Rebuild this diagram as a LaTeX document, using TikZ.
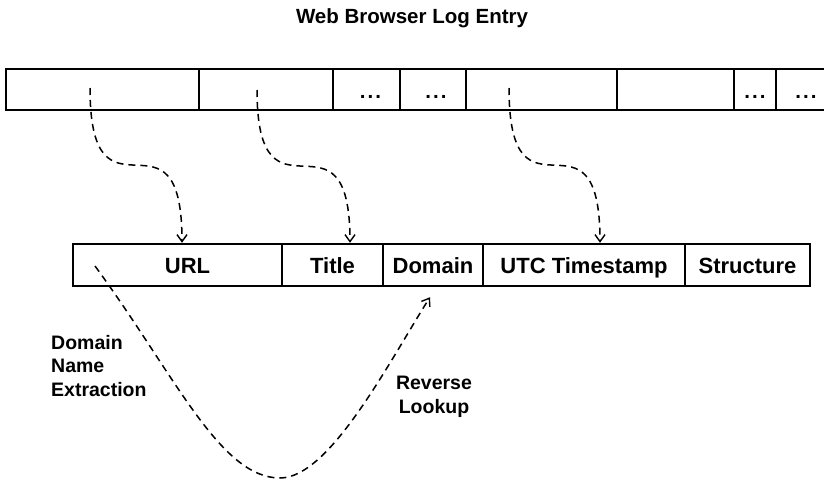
\documentclass[tikz,border=0pt]{standalone}
\usepackage{fontspec}
\setmainfont{Liberation Sans}
\usetikzlibrary{arrows.meta,calc}
\newcommand{\mydots}{.\hspace{2pt}.\hspace{2pt}.}
\begin{document}
\begin{tikzpicture}[x=1pt,y=-1pt,
  font=\bfseries\fontsize{20.5}{23.5}\selectfont,
  cellA/.style={draw, line width=2.4pt, minimum height=41pt, inner sep=0pt, text height=17pt, text depth=0pt},
  cellB/.style={draw, line width=2.4pt, minimum height=42pt, inner sep=0pt, text height=17pt, text depth=0pt,
    font=\bfseries\fontsize{22}{26}\selectfont},
  link/.style={line width=1.5pt, dash pattern=on 7pt off 5pt, -{Straight Barb[length=7pt,width=10pt,line width=1.4pt]}},
  lbl/.style={inner sep=0pt, font=\bfseries\fontsize{19.5}{23.5}\selectfont}]
\useasboundingbox (0,0) rectangle (824,482);
\clip (0,0) rectangle (824,482);
% title
\node[anchor=base] (ttl) at (412,23) {Web Browser Log Entry};
% top row
\node[cellA, minimum width=193pt] (c1) at (102.5,89.5) {};
\node[cellA, minimum width=134pt] (c2) at (266,89.5) {};
\node[cellA, minimum width=67pt] (c3) at (366.5,89.5) {\hspace{8pt}\mydots};
\node[cellA, minimum width=66pt] (c4) at (433,89.5) {\hspace{6pt}\mydots};
\node[cellA, minimum width=151pt] (c5) at (541.5,89.5) {};
\node[cellA, minimum width=117pt] (c6) at (675.5,89.5) {};
\node[cellA, minimum width=42pt] (c7) at (755,89.5) {\mydots};
\node[cellA, minimum width=64pt] (c8) at (808,89.5) {\hspace{-4pt}\mydots};
% bottom row
\node[cellB, minimum width=209pt] (url) at (177.5,265) {\hspace{20pt}URL};
\node[cellB, minimum width=101pt] (title) at (332.5,265) {Title};
\node[cellB, minimum width=100pt] (domain) at (433,265) {Domain};
\node[cellB, minimum width=202pt] (utc) at (584,265) {UTC Timestamp\hspace{12pt}};
\node[cellB, minimum width=125pt] (struct) at (747.5,265) {Structure};
% start points
\coordinate (s1) at (90,88);
\coordinate (s2) at (257,90);
\coordinate (s3) at (509,88);
\coordinate (d0) at (95,266);
\coordinate (bot) at (280,478);
% mapping arrows
\draw[link] (s1) .. controls +(0,150) and +(0,-150) .. ([xshift=4.5pt]url.north);
\draw[link] (s2) .. controls +(0,148) and +(0,-148) .. ([xshift=17.5pt]title.north);
\draw[link] (s3) .. controls +(0,150) and +(0,-150) .. ([xshift=16pt]utc.north);
% domain extraction / reverse lookup
\draw[link] (d0) .. controls (175,375) and (220,478) .. (bot)
  .. controls (330,478) and (390,360) .. ([xshift=-3pt,yshift=-10pt]domain.south);
% labels
\node[lbl, anchor=north west, align=left] (dne) at (51,335) {Domain\\Name\\Extraction};
\node[lbl, anchor=north, align=center] (rl) at (434,376) {Reverse\\Lookup};
\end{tikzpicture}
\end{document}
